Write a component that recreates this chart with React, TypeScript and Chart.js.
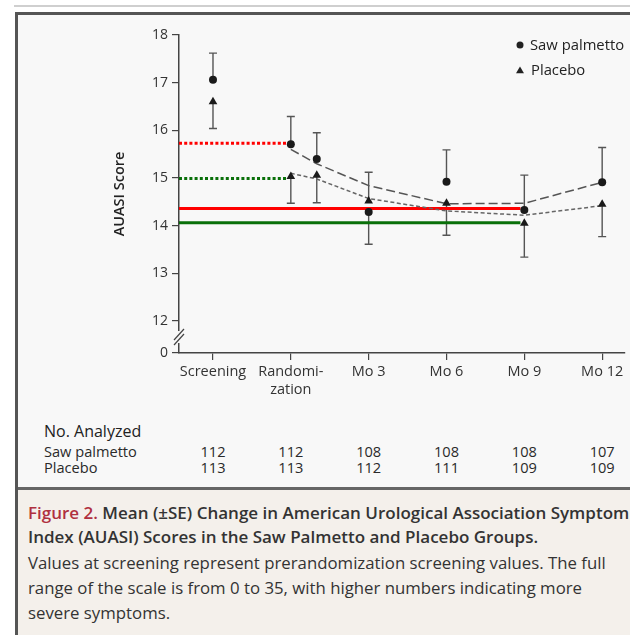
import React, { useEffect, useRef, useState } from "react";
import { Chart, registerables } from "chart.js";

Chart.register(...registerables);

// ---------- data ----------
const tickLabels: (string | string[])[] = ["Screening", ["Randomi-", "zation"], "Mo 3", "Mo 6", "Mo 9", "Mo 12"];
const tickMonths = [-3, 0, 3, 6, 9, 12];
const pointMonths = [-3, 0, 1, 3, 6, 9, 12];
const sawMean = [17.06, 15.71, 15.4, 14.29, 14.92, 14.33, 14.91];
const sawSE = [0.56, 0.58, 0.55, 0.68, 0.67, 0.73, 0.73];
const placeboMean = [16.6, 15.03, 15.06, 14.52, 14.47, 14.05, 14.45];
const placeboSE = [0.56, 0.56, 0.58, 0.6, 0.67, 0.71, 0.68];
const fitMonths = [0, 1, 3, 6, 9, 12];
const sawFit = [15.6, 15.3, 14.84, 14.46, 14.47, 14.91];
const placeboFit = [15.1, 14.98, 14.57, 14.31, 14.22, 14.42];
const refLevels = [15.73, 14.99, 14.36, 14.06];
const refEndMonths = [-0.15, -0.15, 8.85, 8.85];
const refColors = ["#ff0000", "#0a700a", "#ff0000", "#0a700a"];
const refDotted = [true, true, false, false];
const yTicks = [12, 13, 14, 15, 16, 17, 18];
const nSaw = [112, 112, 108, 108, 108, 107];
const nPlacebo = [113, 113, 112, 111, 109, 109];

// scale extents (axis break: bottom of axis labelled 0)
const X_MIN = -4.31;
const X_MAX = 12.88;
const Y_MIN = 11.33;
const Y_MAX = 18;

const FONT = '"Open Sans", sans-serif';
const PANEL_BG = "#f8f8f8";
const INK = "#222";
const AXIS = "#444";

const errorBarPlugin = {
  id: "errorBars",
  beforeDatasetsDraw(chart: any) {
    const { ctx } = chart;
    const x = chart.scales.x;
    const y = chart.scales.y;
    ctx.save();
    ctx.strokeStyle = "#555";
    ctx.lineWidth = 1.4;
    pointMonths.forEach((m, i) => {
      const px = x.getPixelForValue(m);
      const sawUp = sawMean[i] >= placeboMean[i];
      const bars: [number, number][] = [
        [sawMean[i], sawUp ? sawSE[i] : -sawSE[i]],
        [placeboMean[i], sawUp ? -placeboSE[i] : placeboSE[i]],
      ];
      bars.forEach(([mean, d]) => {
        const y0 = y.getPixelForValue(mean);
        const y1 = y.getPixelForValue(mean + d);
        ctx.beginPath();
        ctx.moveTo(px, y0);
        ctx.lineTo(px, y1);
        ctx.moveTo(px - 4, y1);
        ctx.lineTo(px + 4, y1);
        ctx.stroke();
      });
    });
    ctx.restore();
  },
};

const axisBreakPlugin = {
  id: "axisBreak",
  afterDraw(chart: any) {
    const { ctx, chartArea } = chart;
    const y = chart.scales.y;
    const ax = chartArea.left;
    const yc = y.getPixelForValue((Y_MIN + yTicks[0]) / 2);
    ctx.save();
    ctx.fillStyle = PANEL_BG;
    ctx.fillRect(ax - 3, yc - 6, 6, 12);
    ctx.strokeStyle = AXIS;
    ctx.lineWidth = 1.2;
    [-2.5, 2.5].forEach((off) => {
      ctx.beginPath();
      ctx.moveTo(ax - 5, yc + off + 5.5);
      ctx.lineTo(ax + 5, yc + off - 5.5);
      ctx.stroke();
    });
    ctx.restore();
  },
};

const legendPlugin = {
  id: "customLegend",
  afterDraw(chart: any) {
    const { ctx, chartArea } = chart;
    const mx = chartArea.right - 105;
    const y1 = chartArea.top + 10;
    const y2 = chartArea.top + 36;
    ctx.save();
    ctx.fillStyle = INK;
    ctx.beginPath();
    ctx.arc(mx, y1, 3.5, 0, Math.PI * 2);
    ctx.fill();
    const r = 4.6;
    ctx.beginPath();
    ctx.moveTo(mx, y2 - r);
    ctx.lineTo(mx + r * 0.866, y2 + r / 2);
    ctx.lineTo(mx - r * 0.866, y2 + r / 2);
    ctx.closePath();
    ctx.fill();
    ctx.font = `14.8px ${FONT}`;
    ctx.textBaseline = "middle";
    ctx.textAlign = "left";
    ctx.fillText("Saw palmetto", mx + 10, y1 + 1);
    ctx.fillText("Placebo", mx + 11, y2);
    ctx.restore();
  },
};

function buildConfig(): any {
  const refSets = refLevels.map((lvl, i) => ({
    type: "line",
    data: [
      { x: X_MIN, y: lvl },
      { x: refEndMonths[i], y: lvl },
    ],
    borderColor: refColors[i],
    borderWidth: 3,
    borderDash: refDotted[i] ? [3, 2.2] : [],
    borderCapStyle: "butt",
    pointRadius: 0,
    fill: false,
    order: 6,
  }));
  return {
    type: "line",
    data: {
      datasets: [
        ...refSets,
        {
          label: "Saw palmetto fit",
          data: fitMonths.map((m, i) => ({ x: m, y: sawFit[i] })),
          borderColor: "#555",
          borderWidth: 1.5,
          borderDash: [9, 4],
          pointRadius: 0,
          tension: 0,
          fill: false,
          order: 5,
        },
        {
          label: "Placebo fit",
          data: fitMonths.map((m, i) => ({ x: m, y: placeboFit[i] })),
          borderColor: "#666",
          borderWidth: 1.5,
          borderDash: [4, 2.5],
          pointRadius: 0,
          tension: 0,
          fill: false,
          order: 4,
        },
        {
          label: "Saw palmetto",
          data: pointMonths.map((m, i) => ({ x: m, y: sawMean[i] })),
          showLine: false,
          pointStyle: "circle",
          pointRadius: 4,
          pointBackgroundColor: "#1a1a1a",
          pointBorderColor: "#1a1a1a",
          pointBorderWidth: 0,
          order: 1,
        },
        {
          label: "Placebo",
          data: pointMonths.map((m, i) => ({ x: m, y: placeboMean[i] })),
          showLine: false,
          pointStyle: "triangle",
          pointRadius: 5,
          pointBackgroundColor: "#1a1a1a",
          pointBorderColor: "#1a1a1a",
          pointBorderWidth: 0,
          order: 2,
        },
      ],
    },
    options: {
      animation: false,
      responsive: false,
      maintainAspectRatio: false,
      layout: { padding: { top: 35, left: 0, right: 5, bottom: 0 } },
      plugins: {
        legend: { display: false },
        tooltip: { enabled: false },
      },
      scales: {
        x: {
          type: "linear",
          min: X_MIN,
          max: X_MAX,
          afterBuildTicks: (s: any) => {
            s.ticks = tickMonths.map((v) => ({ value: v }));
          },
          afterFit: (s: any) => {
            s.height = 47;
          },
          ticks: {
            autoSkip: false,
            maxRotation: 0,
            padding: 2,
            color: "#333",
            font: { family: FONT, size: 14.5, lineHeight: 1.3 },
            callback: (_v: any, i: number) => tickLabels[i],
          },
          grid: { drawOnChartArea: false, tickLength: 7, color: AXIS, lineWidth: 1.2 },
          border: { color: AXIS, width: 1.5 },
        },
        y: {
          type: "linear",
          min: Y_MIN,
          max: Y_MAX,
          afterBuildTicks: (s: any) => {
            s.ticks = [Y_MIN, ...yTicks].map((v) => ({ value: v }));
          },
          afterFit: (s: any) => {
            s.width = 179;
          },
          ticks: {
            autoSkip: false,
            padding: 4,
            color: "#333",
            font: { family: FONT, size: 14 },
            callback: (v: any) => (v < yTicks[0] ? "0" : String(v)),
          },
          grid: { drawOnChartArea: false, tickLength: 7, color: AXIS, lineWidth: 1.2 },
          border: { color: AXIS, width: 1.5 },
          title: {
            display: true,
            text: "AUASI Score",
            color: INK,
            font: { family: FONT, size: 14.5, weight: "600", lineHeight: 1.2 },
            padding: { top: 111, bottom: 0 },
          },
        },
      },
    },
    plugins: [errorBarPlugin, axisBreakPlugin, legendPlugin],
  };
}

export default function App() {
  const canvasRef = useRef<HTMLCanvasElement>(null);
  const [cols, setCols] = useState<number[]>([]);

  useEffect(() => {
    if (!canvasRef.current) return;
    Chart.defaults.font.family = FONT;
    const chart = new Chart(canvasRef.current, buildConfig());
    const xs: any = chart.scales.x;
    setCols(tickMonths.map((m) => xs.getPixelForValue(m)));
    return () => chart.destroy();
  }, []);

  const abs = (s: React.CSSProperties): React.CSSProperties => ({ position: "absolute", ...s });
  const rowText: React.CSSProperties = {
    fontFamily: FONT,
    fontSize: 14.6,
    lineHeight: "20px",
    color: "#2a2a2a",
    whiteSpace: "nowrap",
  };

  return (
    <div style={abs({ left: 0, top: 0, width: 630, height: 635, overflow: "hidden", background: "#fff" })}>
      <div style={abs({ left: 14, top: 5, width: 616, height: 2, background: "#cfcfcf" })} />
      <div
        style={abs({
          left: 15,
          top: 12,
          width: 615,
          height: 623,
          boxSizing: "border-box",
          background: PANEL_BG,
          borderLeft: "3px solid #555",
          borderTop: "3px solid #555",
        })}
      />
      <div style={abs({ left: 18, top: 487, width: 612, height: 3, background: "#666" })} />
      <div style={abs({ left: 18, top: 490, width: 612, height: 145, background: "#f4f0eb" })} />
      <canvas ref={canvasRef} width={630} height={400} style={abs({ left: 0, top: 0, width: 630, height: 400 })} />

      <div style={abs({ ...rowText, left: 44, top: 421, fontSize: 16, fontWeight: 500, color: INK })}>No. Analyzed</div>
      <div style={abs({ ...rowText, left: 44, top: 441 })}>Saw palmetto</div>
      <div style={abs({ ...rowText, left: 44, top: 457 })}>Placebo</div>
      {cols.map((cx, i) => (
        <React.Fragment key={i}>
          <div style={abs({ ...rowText, left: cx - 30, width: 60, textAlign: "center", top: 441 })}>{nSaw[i]}</div>
          <div style={abs({ ...rowText, left: cx - 30, width: 60, textAlign: "center", top: 457 })}>{nPlacebo[i]}</div>
        </React.Fragment>
      ))}

      <div
        style={abs({
          left: 28,
          top: 501,
          fontFamily: FONT,
          fontSize: 17,
          lineHeight: "24px",
          fontWeight: 600,
          color: "#333",
          whiteSpace: "nowrap",
        })}
      >
        <span style={{ color: "#b0303f" }}>Figure 2.</span> Mean (±SE) Change in American Urological Association Symptom
        <br />
        Index (AUASI) Scores in the Saw Palmetto and Placebo Groups.
      </div>
      <div
        style={abs({
          left: 28,
          top: 550,
          fontFamily: FONT,
          fontSize: 16.8,
          lineHeight: "25px",
          color: "#333",
          whiteSpace: "nowrap",
        })}
      >
        Values at screening represent prerandomization screening values. The full
        <br />
        range of the scale is from 0 to 35, with higher numbers indicating more
        <br />
        severe symptoms.
      </div>
    </div>
  );
}
